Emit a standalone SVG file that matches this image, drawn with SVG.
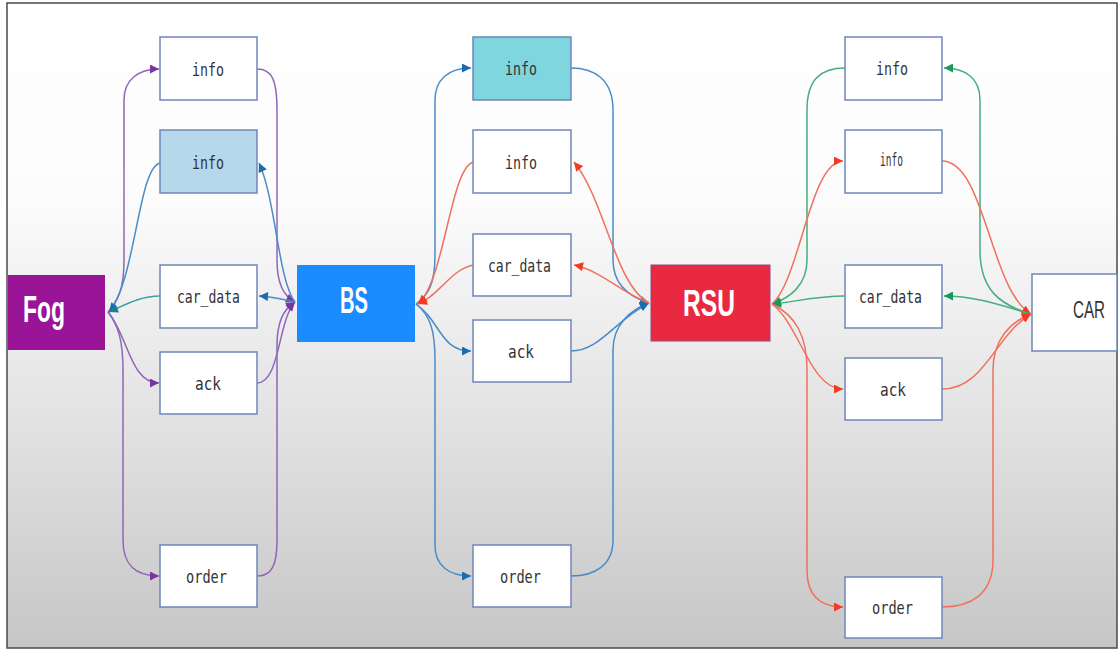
<svg xmlns="http://www.w3.org/2000/svg" width="1119" height="650" viewBox="0 0 1119 650">
  <defs>
    <linearGradient id="bg" x1="0" y1="0" x2="0" y2="1">
      <stop offset="0" stop-color="#ffffff"/>
      <stop offset="0.3" stop-color="#fcfcfc"/>
      <stop offset="0.65" stop-color="#e2e2e2"/>
      <stop offset="1" stop-color="#c6c6c6"/>
    </linearGradient>
    <marker id="mk-purple" viewBox="0 0 10 10" refX="10" refY="5" markerWidth="10" markerHeight="9" markerUnits="userSpaceOnUse" orient="auto">
      <path d="M0,0 L10,5 L0,10 z" fill="#7a35a5"/>
    </marker>
    <marker id="mk-blue" viewBox="0 0 10 10" refX="10" refY="5" markerWidth="10" markerHeight="9" markerUnits="userSpaceOnUse" orient="auto">
      <path d="M0,0 L10,5 L0,10 z" fill="#1b6bb0"/>
    </marker>
    <marker id="mk-teal" viewBox="0 0 10 10" refX="10" refY="5" markerWidth="10" markerHeight="9" markerUnits="userSpaceOnUse" orient="auto">
      <path d="M0,0 L10,5 L0,10 z" fill="#1a7f95"/>
    </marker>
    <marker id="mk-red" viewBox="0 0 10 10" refX="10" refY="5" markerWidth="10" markerHeight="9" markerUnits="userSpaceOnUse" orient="auto">
      <path d="M0,0 L10,5 L0,10 z" fill="#f53a22"/>
    </marker>
    <marker id="mk-green" viewBox="0 0 10 10" refX="10" refY="5" markerWidth="10" markerHeight="9" markerUnits="userSpaceOnUse" orient="auto">
      <path d="M0,0 L10,5 L0,10 z" fill="#16995a"/>
    </marker>
  </defs>
  <style>
    .box { fill: #ffffff; stroke: #6f86b8; stroke-width: 1.5; }
    .lbl { font-family: "DejaVu Sans Mono", monospace; font-size: 17px; fill: #333333; text-anchor: start; }
    .big { font-family: "Liberation Sans", Arial, sans-serif; font-weight: bold; font-size: 36px; fill: #ffffff; }
    .edge { fill: none; stroke-width: 1.5; }
    .purple { stroke: #9066b8; marker-end: url(#mk-purple); }
    .blue { stroke: #4a8cc8; marker-end: url(#mk-blue); }
    .teal { stroke: #3f9cab; marker-end: url(#mk-teal); }
    .red { stroke: #f0705f; marker-end: url(#mk-red); }
    .green { stroke: #45ad80; marker-end: url(#mk-green); }
  </style>

  <!-- frame and background -->
  <rect x="7" y="3" width="1110" height="645" fill="url(#bg)" stroke="#4a4a4a" stroke-width="1.5"/>

  <!-- connectors -->
  <g id="connectors">
    <!-- Fog / BS stage -->
    <path class="edge purple" d="M108,312 C118,300 124,290 124,260 L124,100 C124,80 138,69 159,69"/>
    <path class="edge purple" d="M257,69 C272,69 277,80 277,110 L277,260 C277,285 285,297 295,302"/>
    <path class="edge purple" d="M108,312 C128,335 130,383 159,383"/>
    <path class="edge purple" d="M257,383 C280,383 278,320 295,302"/>
    <path class="edge purple" d="M108,312 C118,325 123,340 123,370 L123,540 C123,565 135,576 159,576"/>
    <path class="edge purple" d="M257,576 C272,576 277,565 277,540 L277,345 C277,320 285,308 295,302"/>
    <path class="edge blue" d="M295,302 C278,280 276,200 259,163"/>
    <path class="edge blue" d="M160,163 C138,168 136,280 109,312"/>
    <path class="edge blue" d="M295,302 C285,300 275,297 259,296"/>
    <path class="edge teal" d="M160,296 C140,296 125,305 109,312"/>

    <!-- BS / RSU stage -->
    <path class="edge blue" d="M416,304 C428,295 435,285 435,255 L435,100 C435,80 448,68 471,68"/>
    <path class="edge blue" d="M571,68 C595,68 613,80 613,110 L613,260 C613,285 630,297 649,303"/>
    <path class="edge blue" d="M416,304 C440,320 440,351 471,351"/>
    <path class="edge blue" d="M571,351 C600,351 615,320 649,303"/>
    <path class="edge blue" d="M416,304 C430,315 435,330 435,360 L435,545 C435,565 448,576 471,576"/>
    <path class="edge blue" d="M571,576 C595,576 613,565 613,540 L613,350 C613,325 630,310 649,303"/>
    <path class="edge red" d="M649,303 C615,285 605,200 574,162"/>
    <path class="edge red" d="M473,162 C450,170 445,280 418,304"/>
    <path class="edge red" d="M649,303 C625,295 600,270 574,265"/>
    <path class="edge red" d="M473,265 C450,270 440,295 418,304"/>

    <!-- RSU / CAR stage -->
    <path class="edge green" d="M845,68 C820,68 807,80 807,110 L807,260 C807,285 790,298 772,304"/>
    <path class="edge green" d="M1031,314 C1000,305 980,290 980,250 L980,100 C980,78 965,68 944,68"/>
    <path class="edge red" d="M772,304 C800,280 810,161 843,161"/>
    <path class="edge red" d="M942,161 C985,161 990,290 1031,314"/>
    <path class="edge green" d="M1031,314 C1000,305 975,296 944,296"/>
    <path class="edge green" d="M845,296 C815,296 795,302 772,304"/>
    <path class="edge red" d="M772,304 C800,325 810,389 843,389"/>
    <path class="edge red" d="M942,389 C985,389 995,335 1031,314"/>
    <path class="edge red" d="M772,304 C795,315 807,335 807,370 L807,570 C807,595 820,607 843,607"/>
    <path class="edge red" d="M942,607 C970,607 993,595 993,560 L993,370 C993,340 1010,322 1031,314"/>
  </g>

  <!-- main nodes -->
  <g id="fog">
    <rect x="8" y="275" width="97" height="75" fill="#9a1497"/>
    <text class="big" x="23" y="322" textLength="42" lengthAdjust="spacingAndGlyphs">Fog</text>
  </g>
  <g id="bs">
    <rect x="297" y="265" width="118" height="77" fill="#1a8cff"/>
    <text class="big" x="340" y="313" textLength="28" lengthAdjust="spacingAndGlyphs">BS</text>
  </g>
  <g id="rsu">
    <rect x="651" y="265" width="119" height="76" fill="#e8293f" stroke="#8a4a8a" stroke-width="1"/>
    <text class="big" x="683" y="316" textLength="52" lengthAdjust="spacingAndGlyphs">RSU</text>
  </g>
  <g id="car">
    <rect class="box" x="1032" y="274" width="85" height="77"/>
    <text x="1089" y="318" text-anchor="middle" textLength="32" lengthAdjust="spacingAndGlyphs" font-family="Liberation Sans, Arial, sans-serif" font-size="24" fill="#333333">CAR</text>
  </g>

  <!-- Fog / BS messages -->
  <g id="l-info1">
    <rect class="box" x="160" y="37" width="97" height="63"/>
    <text class="lbl" x="192" y="76" textLength="32" lengthAdjust="spacingAndGlyphs">info</text>
  </g>
  <g id="l-info2">
    <rect class="box" x="160" y="130" width="97" height="63" style="fill:#b5d8ea"/>
    <text class="lbl" x="192" y="169" textLength="32" lengthAdjust="spacingAndGlyphs">info</text>
  </g>
  <g id="l-car-data">
    <rect class="box" x="160" y="265" width="97" height="63"/>
    <text class="lbl" x="177" y="303" textLength="63" lengthAdjust="spacingAndGlyphs">car_data</text>
  </g>
  <g id="l-ack">
    <rect class="box" x="160" y="352" width="97" height="62"/>
    <text class="lbl" x="195" y="390" textLength="26" lengthAdjust="spacingAndGlyphs">ack</text>
  </g>
  <g id="l-order">
    <rect class="box" x="160" y="545" width="97" height="62"/>
    <text class="lbl" x="186" y="583" textLength="41" lengthAdjust="spacingAndGlyphs">order</text>
  </g>

  <!-- BS / RSU messages -->
  <g id="m-info1">
    <rect class="box" x="473" y="37" width="98" height="63" style="fill:#80d6df"/>
    <text class="lbl" x="505" y="75" textLength="32" lengthAdjust="spacingAndGlyphs">info</text>
  </g>
  <g id="m-info2">
    <rect class="box" x="473" y="130" width="98" height="63"/>
    <text class="lbl" x="505" y="169" textLength="32" lengthAdjust="spacingAndGlyphs">info</text>
  </g>
  <g id="m-car-data">
    <rect class="box" x="473" y="234" width="98" height="62"/>
    <text class="lbl" x="488" y="272" textLength="63" lengthAdjust="spacingAndGlyphs">car_data</text>
  </g>
  <g id="m-ack">
    <rect class="box" x="473" y="320" width="98" height="62"/>
    <text class="lbl" x="508" y="358" textLength="26" lengthAdjust="spacingAndGlyphs">ack</text>
  </g>
  <g id="m-order">
    <rect class="box" x="473" y="545" width="98" height="62"/>
    <text class="lbl" x="500" y="583" textLength="41" lengthAdjust="spacingAndGlyphs">order</text>
  </g>

  <!-- RSU / CAR messages -->
  <g id="r-info1">
    <rect class="box" x="845" y="37" width="97" height="63"/>
    <text class="lbl" x="876" y="75" textLength="32" lengthAdjust="spacingAndGlyphs">info</text>
  </g>
  <g id="r-info2">
    <rect class="box" x="845" y="130" width="97" height="63"/>
    <text class="lbl" x="880" y="166" textLength="23" lengthAdjust="spacingAndGlyphs">info</text>
  </g>
  <g id="r-car-data">
    <rect class="box" x="845" y="265" width="97" height="63"/>
    <text class="lbl" x="859" y="303" textLength="63" lengthAdjust="spacingAndGlyphs">car_data</text>
  </g>
  <g id="r-ack">
    <rect class="box" x="845" y="358" width="97" height="62"/>
    <text class="lbl" x="880" y="396" textLength="26" lengthAdjust="spacingAndGlyphs">ack</text>
  </g>
  <g id="r-order">
    <rect class="box" x="845" y="577" width="97" height="61"/>
    <text class="lbl" x="872" y="614" textLength="41" lengthAdjust="spacingAndGlyphs">order</text>
  </g>
</svg>
